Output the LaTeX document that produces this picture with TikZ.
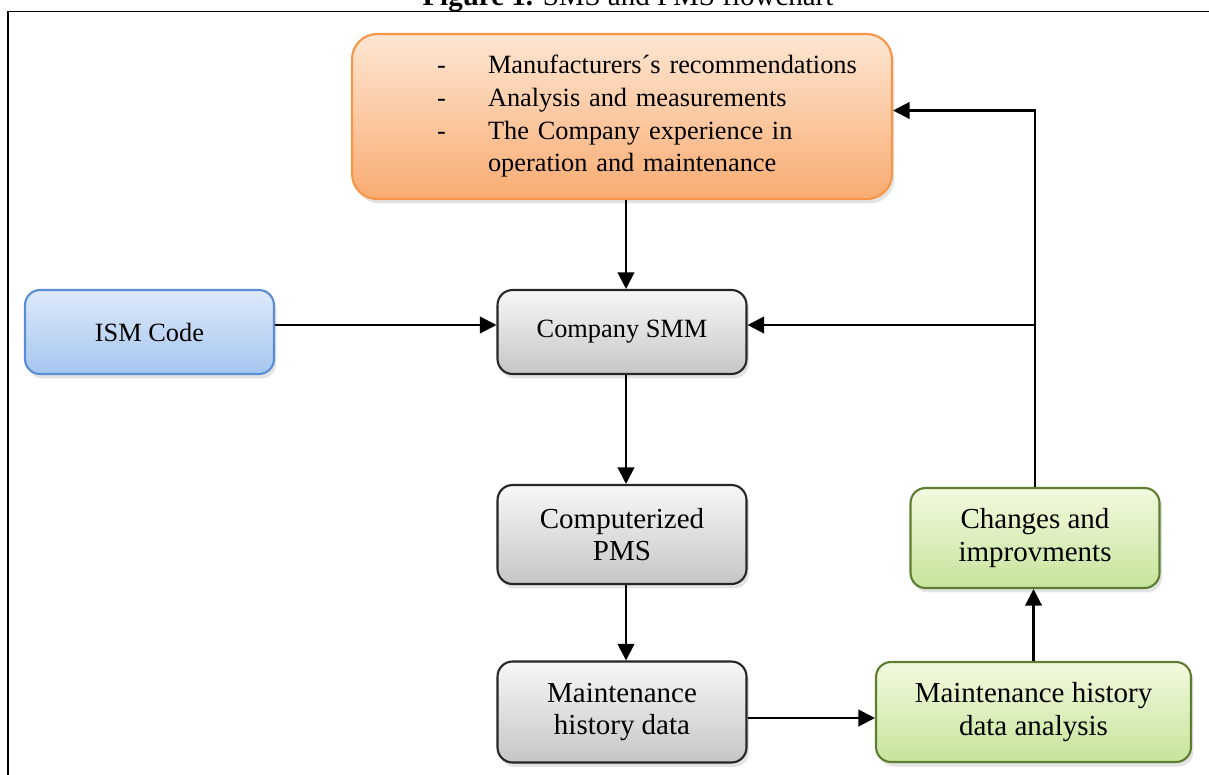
\documentclass[tikz,border=0pt]{standalone}
\usepackage{fontspec}
\setmainfont{Liberation Serif}
\usetikzlibrary{arrows.meta,calc,shadows}

\definecolor{orgtop}{HTML}{FDE6D2}
\definecolor{orgbot}{HTML}{F9AC72}
\definecolor{orgline}{HTML}{F79646}
\definecolor{blutop}{HTML}{DDE9F9}
\definecolor{blubot}{HTML}{A6C6F0}
\definecolor{bluline}{HTML}{5B8CD4}
\definecolor{grntop}{HTML}{F2FADF}
\definecolor{grnbot}{HTML}{C6E49B}
\definecolor{grnline}{HTML}{5E7D32}

\newcommand{\boxfont}{\fontsize{15}{18.6}\selectfont}
\newcommand{\boxfontlarge}{\fontsize{16.5}{18.6}\selectfont}
\newcommand{\itm}[1]{\hspace*{17mm}\makebox[10.2mm][l]{-}#1}

\tikzset{
    box/.style = {rounded corners=3mm, line width=1.2pt, minimum width=4.98cm, align=center, inner sep=2pt,
                  drop shadow={shadow xshift=0.5mm, shadow yshift=-0.9mm, opacity=0.22}},
    graybox/.style = {box, draw=black!85, top color=gray!6, bottom color=gray!45},
    bluebox/.style = {box, draw=bluline, top color=blutop, bottom color=blubot},
    greenbox/.style = {box, draw=grnline, top color=grntop, bottom color=grnbot},
    srcbox/.style = {box, rounded corners=5mm, draw=orgline, top color=orgtop, bottom color=orgbot,
                     minimum width=10.8cm, text width=10.8cm, inner xsep=0pt, align=left, font=\boxfont},
    arr/.style = {line width=1.25pt, -{Triangle[length=3.3mm, width=3.3mm]}},
}

\begin{document}
\begin{tikzpicture}[x=0.02cm, y=-0.02cm]
    \useasboundingbox (0,0) rectangle (1209,774);
    % frame and caption
    \path[draw, line width=1pt](8,11.5)rectangle(1240,800);
    \node[anchor=base, font=\boxfontlarge](ttl)at(628,6){\textbf{Figure 1.} SMS and PMS flowchart};
    % boxes
    \node[srcbox, minimum height=3.3cm](exp)at(622,116.5){%
        \itm{Manufacturers´s recommendations}\\
        \itm{Analysis and measurements}\\
        \itm{The Company experience in}\\
        \hspace*{27.2mm}operation and maintenance};
    \node[bluebox, minimum height=1.68cm, font=\boxfont](ism)at(149.5,332){ISM Code};
    \node[graybox, minimum height=1.68cm, font=\boxfont](smm)at(622,332){Company SMM};
    \node[graybox, minimum height=1.98cm, font=\boxfontlarge](pms)at(622,534.5){Computerized\\PMS};
    \node[graybox, minimum height=2.02cm, font=\boxfontlarge](mhd)at(622,712){Maintenance\\history data};
    \node[greenbox, minimum height=2cm, font=\boxfontlarge](chg)at(1035,538){Changes and\\improvments};
    \node[greenbox, minimum width=6.3cm, minimum height=2cm, font=\boxfontlarge](mha)at(1033.5,712){Maintenance history\\data analysis};
    % arrows
    \path[draw, arr]([xshift=0.8mm]exp.south)to([xshift=0.8mm]smm.north);
    \path[draw, arr]([yshift=1.4mm]ism.east)to([yshift=1.4mm]smm.west);
    \path[draw, arr]([xshift=0.8mm]smm.south)to([xshift=0.8mm]pms.north);
    \path[draw, arr]([xshift=0.8mm]pms.south)to([xshift=0.8mm]mhd.north);
    \path[draw, arr]([yshift=-1.2mm]mhd.east)to([yshift=-1.2mm]mha.west);
    \path[draw, arr](mha.north)to(mha.north |- chg.south);
    % feedback loop
    \coordinate(jn)at(chg.north |- smm.east);
    \path[draw, arr](chg.north)|-([yshift=1.2mm]exp.east);
    \path[draw, arr]([yshift=1.4mm]jn)to([yshift=1.4mm]smm.east);
\end{tikzpicture}
\end{document}
